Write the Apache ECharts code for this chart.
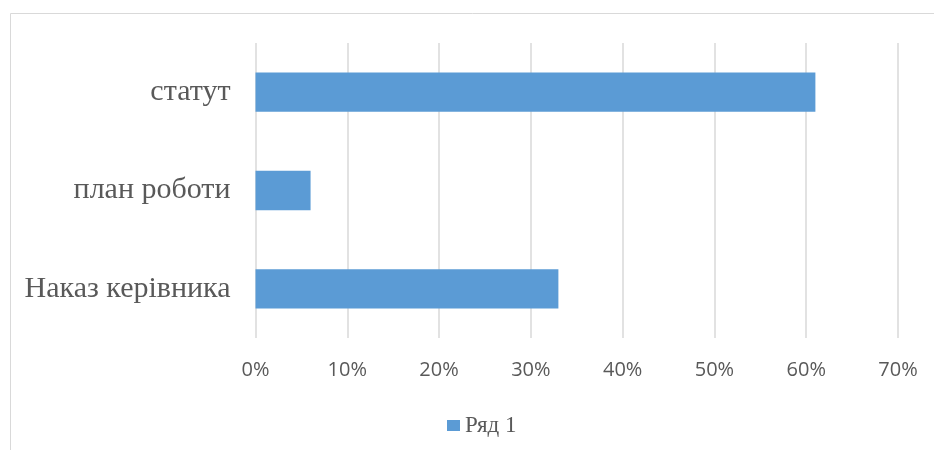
<!DOCTYPE html>
<html><head><meta charset="utf-8">
<script src="https://cdn.jsdelivr.net/npm/echarts@6/dist/echarts.min.js"></script>
<style>html,body{margin:0;padding:0;background:#fff}#c{width:934px;height:450px}</style>
</head><body><div id="c"></div>
<script>
var categories = ['Наказ керівника', 'план роботи', 'статут'];
var values = [33, 6, 61];
var seriesName = 'Ряд 1';
var chart = echarts.init(document.getElementById('c'));
chart.setOption({
  animation: false,
  graphic: [{type:'rect', shape:{x:10.5, y:13.5, width:940, height:460}, style:{fill:'none', stroke:'#d9d9d9', lineWidth:1}, silent:true}],
  grid: {left: 255.5, right: 36, top: 43, bottom: 112, containLabel: false},
  legend: {top: 409, left: 442, itemWidth: 13, itemHeight: 11, itemGap: 6, icon: 'rect',
    textStyle: {fontFamily: 'Liberation Serif', fontSize: 23, color: '#595959'}, data: [seriesName]},
  xAxis: {type: 'value', min: 0, max: 70, interval: 10,
    axisLine: {show: false}, axisTick: {show: false},
    splitLine: {lineStyle: {color: '#d9d9d9', width: 1.5}},
    axisLabel: {formatter: '{value}%', margin: 22, fontFamily: 'Open Sans', fontSize: 20, color: '#595959'}},
  yAxis: {type: 'category', data: categories,
    axisLine: {show: false}, axisTick: {show: false},
    axisLabel: {margin: 25, fontFamily: 'Liberation Serif', fontSize: 30, color: '#595959'}},
  series: [{name: seriesName, type: 'bar', data: values, barWidth: '40%',
    itemStyle: {color: '#5b9bd5'}}]
});
</script></body></html>
